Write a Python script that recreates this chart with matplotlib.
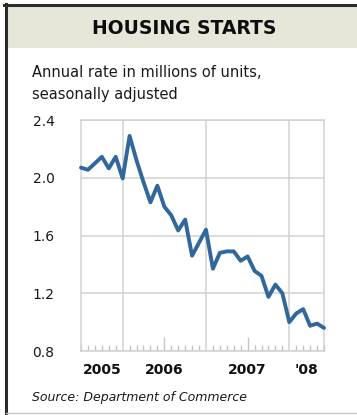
import matplotlib
matplotlib.use('Agg')
import matplotlib.pyplot as plt
from matplotlib.patches import Rectangle
from matplotlib.lines import Line2D
import numpy as np

# housing starts, monthly, Jun 2005 - May 2008 (millions, SAAR)
start_year = 2005
start_month = 6
starts = [2.07, 2.055, 2.10, 2.145, 2.065, 2.145, 1.995,
          2.29, 2.12, 1.97, 1.83, 1.945, 1.80, 1.74, 1.635, 1.71, 1.46, 1.55, 1.64,
          1.37, 1.48, 1.49, 1.49, 1.425, 1.455, 1.355, 1.32, 1.175, 1.26, 1.20, 1.00,
          1.06, 1.09, 0.975, 0.99, 0.96]
y_ticks = [0.8, 1.2, 1.6, 2.0, 2.4]
year_bounds = [2006, 2007, 2008]
year_labels = ['2005', '2006', '2007', "'08"]

W, H = 357, 415
fig = plt.figure(figsize=(W / 100, H / 100), dpi=100)
fig.patch.set_facecolor('white')


def fx(px):
    return px / W


def fy(py):
    return 1 - py / H


# frame and header band
fig.add_artist(Rectangle((fx(7), fy(48)), fx(350), fy(6) - fy(48),
                         transform=fig.transFigure, facecolor='#e6e6d9', edgecolor='none'))
fig.add_artist(Line2D([fx(4), 1], [fy(5), fy(5)], transform=fig.transFigure,
                      color='#2b2b2b', lw=2.2))
fig.add_artist(Line2D([fx(6), fx(6)], [fy(4), 0], transform=fig.transFigure,
                      color='#2b2b2b', lw=2.2))
fig.add_artist(Line2D([fx(6), 1], [fy(412.5), fy(412.5)], transform=fig.transFigure,
                      color='#c8c8c8', lw=1))

fig.text(fx(184), fy(28), 'HOUSING STARTS', ha='center', va='center',
         fontsize=13.5, fontweight='bold', color='#0d0d0d')
fig.text(fx(32), fy(77), 'Annual rate in millions of units,', ha='left', va='baseline',
         fontsize=10.5, color='#1a1a1a')
fig.text(fx(32), fy(99), 'seasonally adjusted', ha='left', va='baseline',
         fontsize=10.5, color='#1a1a1a')
fig.text(fx(32), fy(400.5), 'Source: Department of Commerce', ha='left', va='baseline',
         fontsize=9, style='italic', color='#1a1a1a')

ax = fig.add_axes([fx(81), fy(351), fx(324) - fx(81), fy(120) - fy(351)])

x = np.array([start_year + (start_month + i) / 12 for i in range(len(starts))])
ax.plot(x, starts, color='#30679c', lw=2.8, solid_joinstyle='round',
        solid_capstyle='round', zorder=3, clip_on=False)

ax.set_xlim(x[0], x[-1])
ax.set_ylim(0.8, 2.4)

grid_c = '#d2d2d2'
for s in ax.spines.values():
    s.set_color(grid_c)
    s.set_linewidth(1.1)

ax.set_yticks(y_ticks)
ax.set_yticklabels([f'{v:.1f}' for v in y_ticks])
ax.tick_params(axis='y', length=0, pad=19, labelsize=10, labelcolor='#1a1a1a')
ax.yaxis.grid(True, color=grid_c, lw=1.1)

# month ticks, longer at mid-year
mid = [y + 0.5 for y in year_bounds[:-1]]
ax.set_xticks(mid)
ax.set_xticklabels([])
ax.set_xticks([v for v in x if not any(abs(v - b) < 1e-6 for b in year_bounds + mid)], minor=True)
ax.tick_params(axis='x', which='major', direction='in', length=10, width=1, color='#c4c4c4')
ax.tick_params(axis='x', which='minor', direction='in', length=4.5, width=1, color='#c4c4c4')
for b in year_bounds:
    ax.axvline(b, color=grid_c, lw=1.1, zorder=1)

bounds = [x[0]] + year_bounds + [x[-1]]
for i, lab in enumerate(year_labels):
    cx = (bounds[i] + bounds[i + 1]) / 2
    ax.text(cx, -0.099, lab, transform=ax.get_xaxis_transform(), ha='center',
            va='baseline', fontsize=10, fontweight='bold', color='#111111')

fig.savefig('out.png', dpi=100)
